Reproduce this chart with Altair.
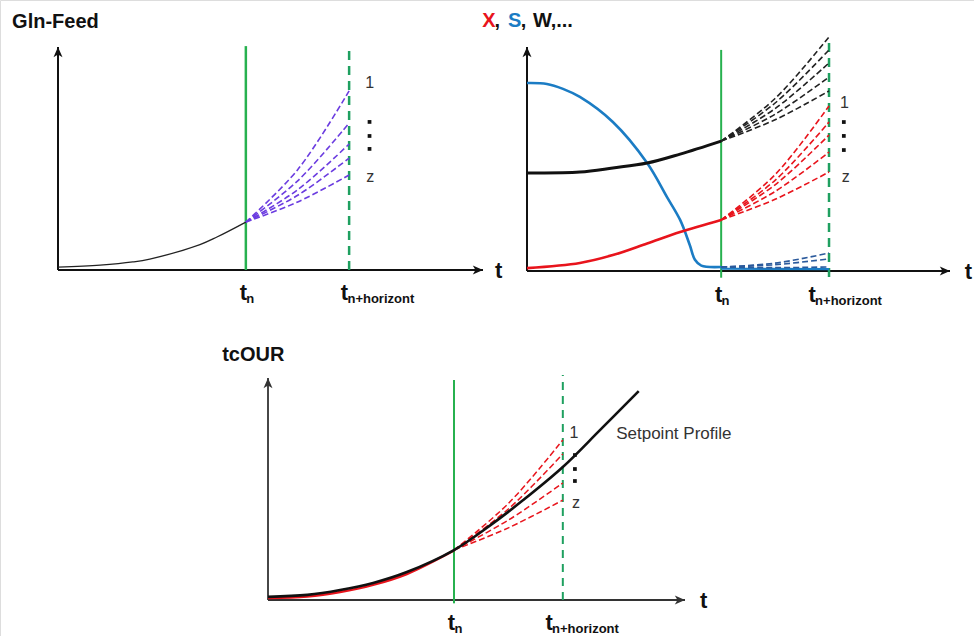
import altair as alt
import pandas as pd

# ---------------- data (t and value in % of each panel's axis length) ----------------
# Panel 1 : Gln-Feed
GLN_T = [0, 9.9, 17.6, 21.6, 33.4, 37.4, 44.2]
GLN_Y = [1.3, 2.2, 3.6, 4.9, 11.4, 14.8, 21.5]
GLN_FAN_T = [44.2, 56.4, 68.5]
GLN_FAN_Y = [[21.5, 45.0, 80.3], [21.5, 40.0, 65.9], [21.5, 36.0, 56.5],
             [21.5, 33.5, 50.2], [21.5, 30.5, 42.6]]
GLN_TN, GLN_TH = 44.2, 68.5

# Panel 2 : X, S, W
S_T = [0, 4.7, 8.5, 12.5, 20.3, 28.4, 33.1, 36.2, 38.5, 39.7, 41.2, 45.9]
S_Y = [83.9, 83.5, 81.3, 77.7, 66.5, 48.2, 33.0, 22.8, 11.5, 5.0, 2.4, 1.8]
W_T = [0, 12.5, 20.3, 28.4, 36.2, 45.9]
W_Y = [43.8, 44.2, 46.0, 48.2, 52.2, 58.0]
X_T = [0, 12.5, 20.3, 28.4, 36.2, 45.9]
X_Y = [1.3, 3.6, 7.1, 12.3, 17.4, 22.8]
XSW_FAN_T = [45.9, 58.65, 71.4]
W_FAN_Y = [[58.0, 77.0, 104.5], [58.0, 75.0, 98.7], [58.0, 72.5, 92.9],
           [58.0, 70.0, 86.6], [58.0, 67.5, 80.4]]
X_FAN_Y = [[22.8, 43.0, 73.7], [22.8, 40.5, 66.5], [22.8, 38.5, 60.7],
           [22.8, 35.5, 53.1], [22.8, 32.0, 44.2]]
S_FAN_Y = [[1.8, 3.5, 8.0], [1.8, 2.8, 5.4], [1.8, 1.5, 1.8]]
S_TAIL_T = [45.9, 71.4]
S_TAIL_Y = [1.0, 0.8]
XSW_TN, XSW_TH = 45.9, 71.4

# Panel 3 : tcOUR
SP_T = [0, 9.4, 17.3, 25.2, 33.3, 44.6, 53.2, 61.2, 70.7, 79.6, 88.9]
SP_Y = [1.4, 2.3, 4.5, 7.7, 12.6, 22.5, 33.5, 45.0, 59.9, 76.5, 94.1]
OUR_T = [0, 9.4, 17.3, 25.2, 33.3, 44.6]
OUR_Y = [0.9, 1.6, 3.6, 6.8, 11.7, 22.3]
OUR_FAN_T = [44.6, 57.65, 70.7]
OUR_FAN_Y = [[22.5, 43.5, 72.1], [22.5, 41.0, 65.8], [22.5, 36.0, 52.7], [22.5, 32.5, 45.0]]
OUR_TN, OUR_TH = 44.6, 70.7

# ---------------- layout / style ----------------
LAYOUT = {
    "gln": {"x": [58, 483], "y": [270, 47]},
    "xsw": {"x": [527, 950], "y": [271, 47]},
    "our": {"x": [268, 685], "y": [600, 378]},
}
FONT = "Liberation Sans"
GREEN = "#27b14f"
GREEN_D = "#1fa060"
RED = "#e8141c"
BLUE = "#1b7cc4"
BLUE_D = "#2b5a9c"
PURPLE = "#6b3ce0"
INTERP = "catmull-rom"


def sx(p):
    return alt.Scale(domain=[0, 100], range=LAYOUT[p]["x"], nice=False, zero=False)


def sy(p):
    return alt.Scale(domain=[0, 100], range=LAYOUT[p]["y"], nice=False, zero=False)


def X(p, f="t"):
    return alt.X(f"{f}:Q", scale=sx(p), axis=None)


def Y(p, f="v"):
    return alt.Y(f"{f}:Q", scale=sy(p), axis=None)


def line_df(ts, ys):
    return pd.DataFrame({"t": ts, "v": ys, "k": 0})


def fan_df(ts, ys_list):
    rows = [{"k": i, "t": t, "v": v} for i, ys in enumerate(ys_list) for t, v in zip(ts, ys)]
    return pd.DataFrame(rows)


layers = []


def add_line(p, df, color, width, dash=None, interp=INTERP):
    kw = dict(color=color, strokeWidth=width, interpolate=interp)
    if dash:
        kw["strokeDash"] = dash
    layers.append(alt.Chart(df).mark_line(**kw).encode(x=X(p), y=Y(p), detail="k:N"))


def add_axes(p, color="#111", width=2):
    layers.append(alt.Chart(pd.DataFrame({"t": [0], "t2": [100], "v": [0]}))
                  .mark_rule(color=color, strokeWidth=width)
                  .encode(x=X(p), x2="t2:Q", y=Y(p)))
    layers.append(alt.Chart(pd.DataFrame({"t": [0], "v": [0], "v2": [100]}))
                  .mark_rule(color=color, strokeWidth=width)
                  .encode(x=X(p), y=Y(p), y2="v2:Q"))
    up = "M 0 0 L 0.75 1.7 L 0 1.25 L -0.75 1.7 Z"
    right = "M 0 0 L -1.7 -0.75 L -1.25 0 L -1.7 0.75 Z"
    layers.append(alt.Chart(pd.DataFrame({"t": [0], "v": [100]}))
                  .mark_point(shape=up, filled=True, color=color, size=144, opacity=1)
                  .encode(x=X(p), y=Y(p)))
    layers.append(alt.Chart(pd.DataFrame({"t": [100], "v": [0]}))
                  .mark_point(shape=right, filled=True, color=color, size=144, opacity=1)
                  .encode(x=X(p), y=Y(p)))


def add_vline(p, t, lo, hi, color, width, dash=None):
    kw = dict(color=color, strokeWidth=width)
    if dash:
        kw["strokeDash"] = dash
    layers.append(alt.Chart(pd.DataFrame({"t": [t], "v": [lo], "v2": [hi]}))
                  .mark_rule(**kw).encode(x=X(p), y=Y(p), y2="v2:Q"))


def add_text(p, t, v, s, size=16, bold=False, color="#111", align="left",
             baseline="middle", dx=0, dy=0):
    layers.append(alt.Chart(pd.DataFrame({"t": [t], "v": [v], "s": [s]}))
                  .mark_text(font=FONT, fontSize=size, fontWeight="bold" if bold else "normal",
                             color=color, align=align, baseline=baseline, dx=dx, dy=dy)
                  .encode(x=X(p), y=Y(p), text="s:N"))


def add_dots(p, t, vs):
    layers.append(alt.Chart(pd.DataFrame({"t": [t] * len(vs), "v": vs}))
                  .mark_square(size=14, color="#111", opacity=1)
                  .encode(x=X(p), y=Y(p)))


def add_tlabels(p, tn, tl_y, t_axis_x):
    # t_n
    add_text(p, tn - 0.6, tl_y, "t", size=22, bold=True, align="center", baseline="alphabetic")
    add_text(p, tn - 0.6, tl_y, "n", size=13, bold=True, align="left", baseline="alphabetic", dx=3, dy=3)
    # t_n+horizont
    add_text(p, 67.4, tl_y, "t", size=22, bold=True, align="center", baseline="alphabetic")
    add_text(p, 67.4, tl_y, "n+horizont", size=13, bold=True, align="left", baseline="alphabetic", dx=3, dy=3)
    # axis label t
    add_text(p, t_axis_x, 0, "t", size=22, bold=True, align="left", baseline="middle", dy=1)


# ---------------- Panel 1 : Gln-Feed ----------------
p = "gln"
add_axes(p)
add_vline(p, GLN_TN, 0, 100.4, GREEN, 2.5)
add_vline(p, GLN_TH, 0, 100.9, GREEN_D, 2.5, [9, 6])
add_line(p, line_df(GLN_T, GLN_Y), "#222", 1.3)
add_line(p, fan_df(GLN_FAN_T, GLN_FAN_Y), PURPLE, 1.6, [6, 3])
add_text(p, 72.3, 83.9, "1", size=16, color="#333")
add_dots(p, 73.3, [66.4, 60.1, 54.3])
add_text(p, 72.5, 41.7, "z", size=16, color="#333")
add_tlabels(p, GLN_TN, -13.5, 102.8)
add_text(p, -10.8, 111.4, "Gln-Feed", size=20, bold=True)

# ---------------- Panel 2 : X, S, W ----------------
p = "xsw"
add_axes(p)
add_vline(p, XSW_TN, -3, 98.7, GREEN, 2)
add_vline(p, XSW_TH, -2.7, 104, GREEN_D, 2.5, [9, 6])
add_line(p, line_df(S_TAIL_T, S_TAIL_Y), BLUE, 2.2)
add_line(p, fan_df(XSW_FAN_T, S_FAN_Y), BLUE_D, 1.6, [6, 3])
add_line(p, line_df(S_T, S_Y), BLUE, 2.6)
add_line(p, line_df(X_T, X_Y), RED, 2.6)
add_line(p, line_df(W_T, W_Y), "#111", 3)
add_line(p, fan_df(XSW_FAN_T, W_FAN_Y), "#222", 1.6, [6, 3])
add_line(p, fan_df(XSW_FAN_T, X_FAN_Y), RED, 1.6, [6, 3])
add_text(p, 74.0, 75.0, "1", size=16, color="#333")
add_dots(p, 74.9, [66.5, 60.3, 54.0])
add_text(p, 74.4, 42.0, "z", size=16, color="#333")
add_tlabels(p, XSW_TN, -13.8, 103.5)
add_text(p, -10.6, 111.6, "X", size=20, bold=True, color=RED)
add_text(p, -7.7, 111.6, ",", size=20, bold=True)
add_text(p, -4.5, 111.6, "S", size=20, bold=True, color=BLUE)
add_text(p, -1.5, 111.6, ",", size=20, bold=True)
add_text(p, 1.4, 111.6, "W,...", size=20, bold=True)

# ---------------- Panel 3 : tcOUR ----------------
p = "our"
add_axes(p, color="#333", width=1.8)
add_vline(p, OUR_TN, -1.5, 99.1, GREEN, 2)
add_vline(p, OUR_TH, 0, 101.4, GREEN_D, 2, [8, 6])
add_line(p, line_df(OUR_T, OUR_Y), RED, 2.5)
add_line(p, fan_df(OUR_FAN_T, OUR_FAN_Y), RED, 1.5, [6, 3])
add_line(p, line_df(SP_T, SP_Y), "#111", 2.6)
add_text(p, 72.3, 75.2, "1", size=16, color="#333")
add_dots(p, 73.6, [65.3, 59.0, 53.6])
add_text(p, 72.9, 43.7, "z", size=16, color="#333")
add_text(p, 83.5, 74.8, "Setpoint Profile", size=17, color="#333")
add_tlabels(p, OUR_TN, -13.5, 103.6)
add_text(p, -11.0, 110.4, "tcOUR", size=20, bold=True)

chart = (
    alt.layer(*layers)
    .resolve_scale(x="independent", y="independent")
    .properties(width=974, height=636, autosize=alt.AutoSizeParams(type="none"), padding=0)
    .configure_view(stroke=None)
    .configure(background="white")
)

chart.save("out.html", embed_options={"renderer": "svg", "actions": False})
